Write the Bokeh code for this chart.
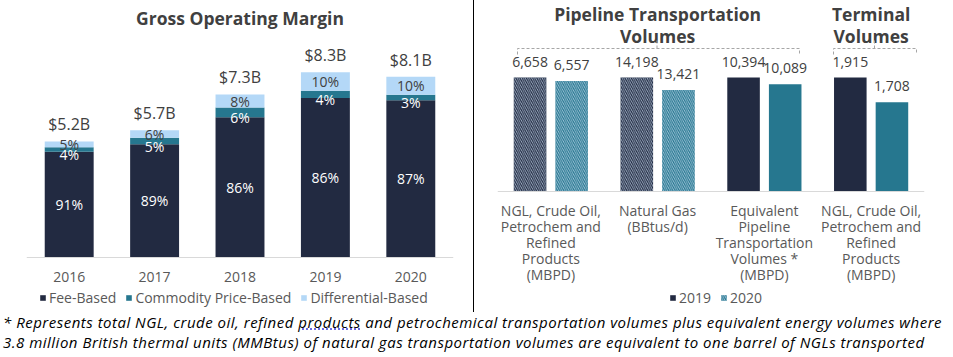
import numpy as np
from bokeh.plotting import figure
from bokeh.models import (Range1d, Legend, LegendItem, Div, Span)
from bokeh.layouts import row, column
from bokeh.core.properties import value
from bokeh.embed import file_html
from bokeh.resources import INLINE

# ---------------- data ----------------
years = ["2016", "2017", "2018", "2019", "2020"]
gom_total = [5.2, 5.7, 7.3, 8.3, 8.1]          # $B
fee_pct = [91, 89, 86, 86, 87]
commodity_pct = [4, 5, 6, 4, 3]
differential_pct = [5, 6, 8, 10, 10]

vol_labels = [
    "NGL, Crude Oil,\nPetrochem and\nRefined\nProducts\n(MBPD)",
    "Natural Gas\n(BBtus/d)",
    "Equivalent\nPipeline\nTransportation\nVolumes *\n(MBPD)",
    "NGL, Crude Oil,\nPetrochem and\nRefined\nProducts\n(MBPD)",
]
vol_2019 = [6658, 14198, 10394, 1915]
vol_2020 = [6557, 13421, 10089, 1708]
vol_hatched = [True, True, False, False]

footnote = ("* Represents total NGL, crude oil, refined <span style='text-decoration: underline dotted #3b3bd6;'>products</span> "
            "and petrochemical transportation volumes plus equivalent energy volumes where<br>"
            "3.8 million British thermal units (MMBtus) of natural gas transportation volumes are "
            "equivalent to one barrel of NGLs transported")

# ---------------- style ----------------
FONT = "Open Sans"
NAVY = "#222A41"
TEAL = "#26778F"
LIGHT = "#B4D8F7"
DARK_TXT = "#404040"
TICK_TXT = "#595959"
AXIS_CLR = "#D9D9D9"
H = 312   # height of both chart panels

txt = dict(text_font=value(FONT), text_align="center", text_baseline="middle")


def style_plot(p):
    p.xaxis.visible = False
    p.yaxis.visible = False
    p.xgrid.grid_line_color = None
    p.ygrid.grid_line_color = None
    p.outline_line_color = None
    p.background_fill_color = "white"
    p.border_fill_color = "white"


def make_legend(items, loc):
    return Legend(items=items, orientation="horizontal", location=loc,
                  label_text_font=FONT, label_text_font_size="14px", label_text_color=TICK_TXT,
                  glyph_width=7, glyph_height=7, label_height=17, label_standoff=3,
                  spacing=9, padding=0, margin=0, border_line_color=None,
                  background_fill_alpha=0)


# ---------------- left chart ----------------
PPU1 = 22.33                      # px per $B
BASE1 = 257                       # baseline, px from top
p1 = figure(x_range=Range1d(-0.5, 4.5),
            y_range=Range1d(-(H - BASE1) / PPU1, BASE1 / PPU1),
            width=473, height=H,
            min_border_left=26, min_border_right=20, min_border_top=0, min_border_bottom=0,
            output_backend="svg", toolbar_location=None)
style_plot(p1)

x1 = np.arange(len(years))
t = np.array(gom_total)
f_top = t * np.array(fee_pct) / 100
c_top = f_top + t * np.array(commodity_pct) / 100
d_top = c_top + t * np.array(differential_pct) / 100

BW1 = 0.573
r_fee = p1.vbar(x=x1, bottom=0, top=f_top, width=BW1, fill_color=NAVY, line_color=None)
r_com = p1.vbar(x=x1, bottom=f_top, top=c_top, width=BW1, fill_color=TEAL, line_color=None)
r_dif = p1.vbar(x=x1, bottom=c_top, top=d_top, width=BW1, fill_color=LIGHT, line_color=None)
p1.add_layout(Span(location=0, dimension="width", line_color=AXIS_CLR, line_width=1))

p1.text(x=x1, y=d_top, text=[f"${v}B" for v in gom_total], y_offset=-17,
        text_font_size="16px", text_color=DARK_TXT, **txt)
p1.text(x=x1, y=f_top / 2, text=[f"{v}%" for v in fee_pct],
        text_font_size="14px", text_color="white", **txt)
p1.text(x=x1, y=(f_top + c_top) / 2, text=[f"{v}%" for v in commodity_pct], y_offset=5,
        text_font_size="14px", text_color="white", **txt)
p1.text(x=x1, y=(c_top + d_top) / 2, text=[f"{v}%" for v in differential_pct],
        text_font_size="14px", text_color=DARK_TXT, **txt)
# category (year) labels under the baseline
p1.text(x=x1, y=0, text=years, y_offset=19,
        text_font_size="14px", text_color=TICK_TXT, **txt)
p1.text(x=[2], y=[BASE1 / PPU1], text=["Gross Operating Margin"], y_offset=17,
        text_font_size="17.5px", text_font_style="bold", text_color=DARK_TXT, **txt)

p1.add_layout(make_legend([LegendItem(label="Fee-Based", renderers=[r_fee]),
                           LegendItem(label="Commodity Price-Based", renderers=[r_com]),
                           LegendItem(label="Differential-Based", renderers=[r_dif])],
                          (13, 5)))

# ---------------- right chart ----------------
Y2_BASE = 0.5                     # each group indexed to its 2019 value, axis from 0.5
PPU2 = 228.0
BASE2 = 191
p2 = figure(x_range=Range1d(-0.5, 3.5),
            y_range=Range1d(Y2_BASE - (H - BASE2) / PPU2, Y2_BASE + BASE2 / PPU2),
            width=472, height=H,
            min_border_left=23, min_border_right=22, min_border_top=0, min_border_bottom=0,
            output_backend="svg", toolbar_location=None)
style_plot(p2)

idx = np.arange(len(vol_2019))
v19 = np.array(vol_2019, dtype=float)
v20 = np.array(vol_2020, dtype=float)
idx19 = v19 / v19
idx20 = v20 / v19
OFF, BW2 = 0.195, 0.305
hm = np.array(vol_hatched)

hatch = dict(hatch_pattern="\\", hatch_color="#C9DDF2", hatch_scale=4.2, hatch_weight=0.7)
r19h = p2.vbar(x=(idx - OFF)[hm], bottom=Y2_BASE, top=idx19[hm], width=BW2,
               fill_color=NAVY, line_color=None, **hatch)
r20h = p2.vbar(x=(idx + OFF)[hm], bottom=Y2_BASE, top=idx20[hm], width=BW2,
               fill_color=TEAL, line_color=None, **hatch)
r19s = p2.vbar(x=(idx - OFF)[~hm], bottom=Y2_BASE, top=idx19[~hm], width=BW2,
               fill_color=NAVY, line_color=None)
r20s = p2.vbar(x=(idx + OFF)[~hm], bottom=Y2_BASE, top=idx20[~hm], width=BW2,
               fill_color=TEAL, line_color=None)
p2.add_layout(Span(location=Y2_BASE, dimension="width", line_color=AXIS_CLR, line_width=1))

p2.text(x=idx - OFF, y=idx19, text=[f"{v:,}" for v in vol_2019], y_offset=-16,
        text_font_size="14px", text_color=DARK_TXT, **txt)
p2.text(x=idx + OFF, y=idx20, text=[f"{v:,}" for v in vol_2020], y_offset=-16,
        text_font_size="14px", text_color=DARK_TXT, **txt)

# category labels under the baseline
p2.text(x=idx, y=[Y2_BASE] * len(idx), text=vol_labels, y_offset=9,
        text_font=value(FONT), text_align="center", text_baseline="top",
        text_line_height=0.85, text_font_size="14px", text_color=TICK_TXT)

# section titles
Y2_TOP = Y2_BASE + BASE2 / PPU2
p2.text(x=[1, 1, 3, 3], y=[Y2_TOP] * 4,
        text=["Pipeline Transportation", "Volumes", "Terminal", "Volumes"],
        y_offset=[13, 35, 13, 35],
        text_font_size="17.5px", text_font_style="bold", text_color=DARK_TXT, **txt)


# dashed brackets under the section titles
def y2(py):
    return Y2_BASE + (BASE2 - py) / PPU2


def x2(px):
    return -0.5 + (px - 497) / 106.75


brk_xs, brk_ys = [], []
for (a, b, c) in [(517, 799, 656.5), (833, 916, 874)]:
    brk_xs += [[x2(a), x2(a), x2(b), x2(b)], [x2(c), x2(c)]]
    brk_ys += [[y2(54), y2(48), y2(48), y2(54)], [y2(48), y2(39)]]
p2.multi_line(xs=brk_xs, ys=brk_ys, line_color="#A6A6A6", line_dash="3 2", line_width=1)

p2.add_layout(make_legend([LegendItem(label="2019", renderers=[r19s]),
                           LegendItem(label="2020", renderers=[r20h])],
                          (172, 5)))

divider = Div(width=1, height=H, margin=0, styles={"background-color": "black"})

foot = Div(text=footnote, width=946, height=42, margin=0,
           styles={"font-family": FONT, "font-style": "italic", "font-size": "15px",
                   "letter-spacing": "0.5px",
                   "line-height": "20px", "color": "black", "white-space": "nowrap",
                   "padding-left": "3px"})

layout = column(row(p1, divider, p2), foot)

open("out.html", "w").write(file_html(layout, INLINE))
